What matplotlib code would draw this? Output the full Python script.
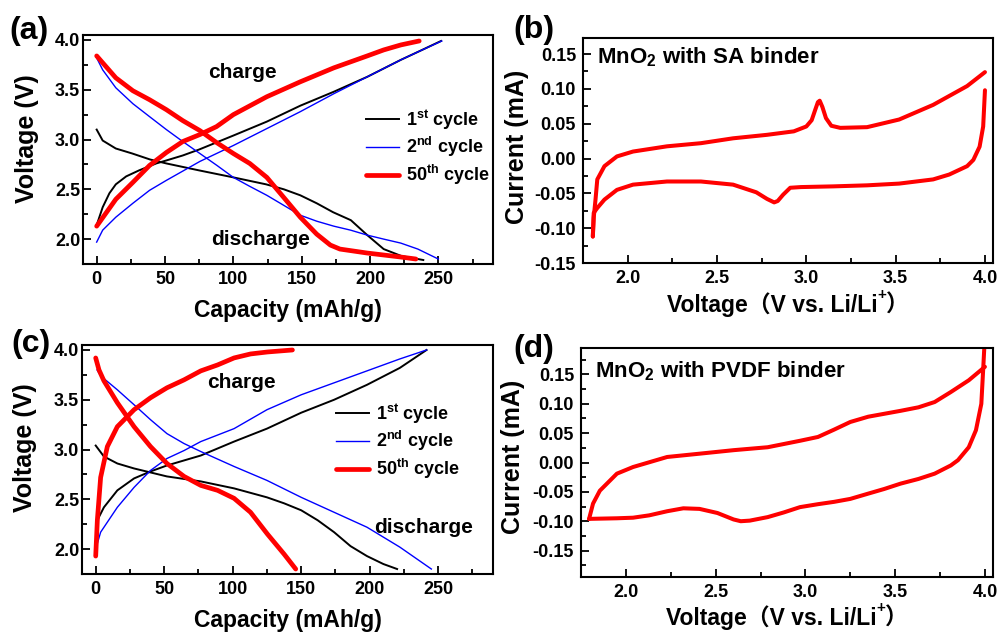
import matplotlib
matplotlib.use("Agg")
import matplotlib.pyplot as plt
from matplotlib.ticker import MultipleLocator, FuncFormatter

# ---------------- data ----------------
# (a) galvanostatic charge/discharge, SA binder
a1_dis_x = [0, 4.4, 14, 26, 39, 51, 75, 100, 124, 137, 149, 161, 173, 186, 198, 210, 223, 239]
a1_dis_y = [3.10, 2.99, 2.91, 2.86, 2.80, 2.76, 2.69, 2.62, 2.55, 2.50, 2.44, 2.36, 2.27, 2.19, 2.04, 1.90, 1.83, 1.79]
a1_ch_x = [0, 4.4, 9.3, 14, 21.6, 31, 43.6, 51, 63, 75, 100, 124.5, 149, 173.5, 198, 222.5, 235, 252]
a1_ch_y = [2.14, 2.32, 2.46, 2.55, 2.63, 2.69, 2.76, 2.79, 2.84, 2.90, 3.04, 3.18, 3.34, 3.48, 3.63, 3.80, 3.88, 3.99]
a2_dis_x = [0, 4.4, 14, 26.5, 38.7, 51, 63, 75.5, 88, 100, 112, 124.5, 136.8, 149, 161, 173.5, 185.8, 198, 210, 222.5, 235, 250]
a2_dis_y = [3.82, 3.70, 3.52, 3.36, 3.23, 3.10, 2.98, 2.86, 2.74, 2.62, 2.53, 2.44, 2.34, 2.24, 2.18, 2.13, 2.09, 2.04, 2.00, 1.96, 1.90, 1.80]
a2_ch_x = [0, 4.4, 14, 26.5, 38.7, 51, 75.5, 100, 124.5, 149, 173.5, 198, 222.5, 235, 252.5]
a2_ch_y = [1.97, 2.09, 2.22, 2.36, 2.49, 2.59, 2.78, 2.94, 3.11, 3.28, 3.46, 3.63, 3.80, 3.88, 3.99]
a50_dis_x = [0, 14, 26.5, 38.7, 51, 63, 75.5, 87.7, 100, 112, 124.5, 136.8, 149, 161, 171, 178, 198, 222.5, 233.6]
a50_dis_y = [3.84, 3.62, 3.49, 3.40, 3.30, 3.19, 3.09, 2.97, 2.86, 2.76, 2.62, 2.42, 2.22, 2.05, 1.94, 1.90, 1.86, 1.82, 1.80]
a50_ch_x = [0, 14, 26.5, 38.7, 51, 63, 75.5, 87.7, 100, 124.5, 149, 173.5, 198, 210, 222.5, 236]
a50_ch_y = [2.13, 2.40, 2.57, 2.74, 2.87, 2.98, 3.05, 3.13, 3.25, 3.43, 3.58, 3.72, 3.84, 3.90, 3.95, 3.99]

# (c) galvanostatic charge/discharge, PVDF binder
c1_dis_x = [0, 6, 15.8, 28, 52, 76.7, 101, 125, 137.5, 150, 162, 174, 186, 198, 210, 220]
c1_dis_y = [3.04, 2.93, 2.86, 2.81, 2.73, 2.68, 2.61, 2.52, 2.46, 2.39, 2.29, 2.17, 2.03, 1.93, 1.85, 1.80]
c1_ch_x = [0, 1.2, 6, 15.8, 28, 40, 52, 76.7, 101, 125, 150, 174, 198, 222, 241.5]
c1_ch_y = [2.05, 2.29, 2.42, 2.59, 2.71, 2.78, 2.84, 2.94, 3.08, 3.21, 3.37, 3.50, 3.65, 3.82, 4.0]
c2_dis_x = [1, 3.6, 15.8, 28, 40, 52, 64.5, 76.7, 101, 125, 150, 174, 198, 222, 245]
c2_dis_y = [3.80, 3.74, 3.60, 3.45, 3.30, 3.16, 3.06, 2.98, 2.83, 2.69, 2.52, 2.37, 2.22, 2.02, 1.80]
c2_ch_x = [0, 3.6, 15.8, 28, 40, 52, 64.5, 76.7, 101, 125, 150, 174, 198, 222, 241.5]
c2_ch_y = [2.00, 2.17, 2.42, 2.62, 2.79, 2.91, 2.99, 3.08, 3.21, 3.40, 3.55, 3.67, 3.79, 3.91, 4.0]
c50_dis_x = [0, 2.4, 6, 15.8, 28, 40, 52, 64.5, 76.7, 89, 101, 113, 125.4, 137.5, 146]
c50_dis_y = [3.92, 3.80, 3.69, 3.47, 3.23, 3.03, 2.86, 2.73, 2.64, 2.59, 2.51, 2.37, 2.15, 1.95, 1.80]
c50_ch_x = [0, 1.2, 3.6, 8.5, 15.8, 28, 40, 52, 64.5, 76.7, 89, 101, 113, 125.4, 143.6]
c50_ch_y = [1.93, 2.29, 2.72, 3.03, 3.23, 3.40, 3.52, 3.62, 3.70, 3.79, 3.85, 3.92, 3.96, 3.98, 4.0]

# (b) CV, SA binder
b_an_v = [1.805, 1.81, 1.82, 1.83, 1.87, 1.94, 2.03, 2.22, 2.41, 2.59, 2.78, 2.93, 3.0, 3.03, 3.05, 3.065, 3.075, 3.09, 3.11, 3.14, 3.19, 3.34, 3.52, 3.71, 3.90, 4.0]
b_an_i = [-0.112, -0.085, -0.059, -0.030, -0.011, 0.003, 0.010, 0.0175, 0.022, 0.029, 0.034, 0.039, 0.046, 0.055, 0.070, 0.081, 0.083, 0.074, 0.058, 0.047, 0.044, 0.045, 0.056, 0.077, 0.104, 0.124]
b_ca_v = [4.0, 3.99, 3.97, 3.935, 3.90, 3.80, 3.71, 3.52, 3.34, 3.15, 2.97, 2.91, 2.87, 2.84, 2.82, 2.78, 2.72, 2.59, 2.41, 2.22, 2.03, 1.94, 1.87, 1.83, 1.81, 1.805]
b_ca_i = [0.098, 0.046, 0.017, -0.002, -0.011, -0.023, -0.030, -0.036, -0.0385, -0.040, -0.041, -0.042, -0.052, -0.061, -0.063, -0.058, -0.0485, -0.0375, -0.033, -0.033, -0.0375, -0.045, -0.059, -0.071, -0.078, -0.112]

# (d) CV, PVDF binder
d_an_v = [1.795, 1.817, 1.855, 1.95, 2.04, 2.23, 2.41, 2.60, 2.79, 2.97, 3.07, 3.16, 3.25, 3.35, 3.44, 3.53, 3.63, 3.72, 3.81, 3.91, 4.0]
d_an_i = [-0.096, -0.070, -0.048, -0.019, -0.0077, 0.0094, 0.015, 0.021, 0.026, 0.037, 0.0435, 0.056, 0.069, 0.078, 0.083, 0.088, 0.094, 0.103, 0.120, 0.140, 0.163]
d_ca_v = [3.999, 3.99, 3.98, 3.95, 3.91, 3.85, 3.81, 3.72, 3.63, 3.53, 3.44, 3.35, 3.25, 3.16, 3.07, 2.97, 2.88, 2.79, 2.69, 2.64, 2.60, 2.51, 2.41, 2.32, 2.23, 2.13, 2.04, 1.95, 1.795]
d_ca_i = [0.21, 0.157, 0.10, 0.055, 0.026, 0.004, -0.005, -0.019, -0.028, -0.036, -0.045, -0.053, -0.062, -0.067, -0.071, -0.076, -0.085, -0.093, -0.099, -0.100, -0.097, -0.086, -0.079, -0.078, -0.083, -0.090, -0.094, -0.095, -0.096]

legend_labels = ["1$^{st}$ cycle", "2$^{nd}$ cycle", "50$^{th}$ cycle"]
panel_labels = ["(a)", "(b)", "(c)", "(d)"]

# ---------------- style ----------------
plt.rcParams.update({
    "font.family": ["Liberation Sans", "Noto Sans CJK SC", "DejaVu Sans"],
    "font.weight": "bold",
    "axes.labelweight": "bold",
    "mathtext.fontset": "custom",
    "mathtext.rm": "Liberation Sans:bold",
    "mathtext.it": "Liberation Sans:bold",
    "mathtext.bf": "Liberation Sans:bold",
    "mathtext.sf": "Liberation Sans:bold",
    "axes.linewidth": 1.5,
    "axes.unicode_minus": False,
})

W, H = 998, 633
fig = plt.figure(figsize=(W / 100, H / 100), dpi=100)


def px_axes(l, t, r, b):
    return fig.add_axes([l / W, 1 - b / H, (r - l) / W, (b - t) / H])


ax_a = px_axes(83, 35, 493, 264)
ax_b = px_axes(583, 38, 993, 263)
ax_c = px_axes(82, 345, 493, 574)
ax_d = px_axes(581, 348, 993, 577)

THIN_K, THIN_B, THICK = 1.4, 1.0, 3.4
BLACK, BLUE, RED = "#000000", "#0000ff", "#ff0000"


def style(ax, xmaj, xmin, ymaj, ymin, xfmt, yfmt, ypad):
    ax.xaxis.set_major_locator(MultipleLocator(xmaj))
    ax.xaxis.set_minor_locator(MultipleLocator(xmin))
    ax.yaxis.set_major_locator(MultipleLocator(ymaj))
    ax.yaxis.set_minor_locator(MultipleLocator(ymin))
    ax.xaxis.set_major_formatter(FuncFormatter(lambda v, p: xfmt.format(round(v, 3) + 0)))
    ax.yaxis.set_major_formatter(FuncFormatter(lambda v, p: yfmt.format(round(v, 3) + 0)))
    ax.tick_params(which="both", direction="in", top=False, right=False, width=1.3, labelsize=13)
    ax.tick_params(which="major", length=5.5)
    ax.tick_params(which="minor", length=3.5)
    ax.tick_params(axis="x", pad=5)
    ax.tick_params(axis="y", pad=ypad)


# ---- (a) and (c) ----
def gcd_panel(ax, k_dx, k_dy, k_cx, k_cy, b_dx, b_dy, b_cx, b_cy, r_dx, r_dy, r_cx, r_cy):
    l1, = ax.plot(k_dx, k_dy, color=BLACK, lw=THIN_K)
    ax.plot(k_cx, k_cy, color=BLACK, lw=THIN_K)
    l2, = ax.plot(b_dx, b_dy, color=BLUE, lw=THIN_B)
    ax.plot(b_cx, b_cy, color=BLUE, lw=THIN_B)
    l3, = ax.plot(r_dx, r_dy, color=RED, lw=THICK, solid_capstyle="round")
    ax.plot(r_cx, r_cy, color=RED, lw=THICK, solid_capstyle="round")
    ax.set_xlim(-10, 290)
    ax.set_ylim(1.75, 4.05)
    style(ax, 50, 25, 0.5, 0.25, "{:.0f}", "{:.1f}", 2)
    ax.set_xlabel("Capacity (mAh/g)", fontsize=16.5, fontweight="bold")
    ax.xaxis.label.set_va("baseline")
    ax.xaxis.set_label_coords(0.5, -0.231)
    ax.set_ylabel("Voltage (V)", fontsize=18, fontweight="bold")
    ax.yaxis.label.set_va("center")
    return [l1, l2, l3]


hs = gcd_panel(ax_a, a1_dis_x, a1_dis_y, a1_ch_x, a1_ch_y, a2_dis_x, a2_dis_y, a2_ch_x, a2_ch_y,
               a50_dis_x, a50_dis_y, a50_ch_x, a50_ch_y)
ax_a.yaxis.set_label_coords(-0.137, 0.548)
ax_a.legend(hs, legend_labels, loc="upper left", bbox_to_anchor=(0.69, 0.683), frameon=False,
            fontsize=13, handlelength=1.85, handletextpad=0.35, labelspacing=0.2,
            borderpad=0, borderaxespad=0)
ax_a.text(0.388, 0.838, "charge", transform=ax_a.transAxes, ha="center", va="center", fontsize=15, fontweight="bold")
ax_a.text(0.434, 0.109, "discharge", transform=ax_a.transAxes, ha="center", va="center", fontsize=15, fontweight="bold")

hs = gcd_panel(ax_c, c1_dis_x, c1_dis_y, c1_ch_x, c1_ch_y, c2_dis_x, c2_dis_y, c2_ch_x, c2_ch_y,
               c50_dis_x, c50_dis_y, c50_ch_x, c50_ch_y)
ax_c.yaxis.set_label_coords(-0.139, 0.55)
ax_c.legend(hs, legend_labels, loc="upper left", bbox_to_anchor=(0.618, 0.753), frameon=False,
            fontsize=13, handlelength=1.85, handletextpad=0.35, labelspacing=0.2,
            borderpad=0, borderaxespad=0)
ax_c.text(0.387, 0.838, "charge", transform=ax_c.transAxes, ha="center", va="center", fontsize=15, fontweight="bold")
ax_c.text(0.830, 0.205, "discharge", transform=ax_c.transAxes, ha="center", va="center", fontsize=15, fontweight="bold")


# ---- (b) and (d) ----
CJK = ["Liberation Sans", "Noto Sans CJK SC", "DejaVu Sans"]


def cv_panel(ax, an_v, an_i, ca_v, ca_i, ylim, note, note_y, xl_y):
    ax.plot(an_v, an_i, color=RED, lw=2.9, solid_capstyle="round", solid_joinstyle="round")
    ax.plot(ca_v, ca_i, color=RED, lw=2.9, solid_capstyle="round", solid_joinstyle="round")
    ax.set_xlim(1.75, 4.045)
    ax.set_ylim(*ylim)
    style(ax, 0.5, 0.25, 0.05, 0.025, "{:.1f}", "{:.2f}", 5)
    ax.set_ylabel("Current (mA)", fontsize=18, fontweight="bold")
    ax.yaxis.label.set_va("center")
    ax.text(0.034, note_y, note, transform=ax.transAxes, ha="left", va="baseline", fontsize=16, fontweight="bold")
    t1 = ax.text(0.2, xl_y, "Voltage（V vs. Li/Li", transform=ax.transAxes, ha="left", va="baseline",
                 fontsize=16.5, fontweight="bold", family=CJK)
    t2 = ax.annotate("+", xy=(1.0, 0.62), xycoords=t1, ha="left", va="bottom", fontsize=11, fontweight="bold")
    t3 = ax.annotate("）", xy=(1.0, 0.0), xycoords=(t2, t1), ha="left", va="bottom",
                     fontsize=16.5, fontweight="bold", family=CJK)
    return t1, t3


xl_b = cv_panel(ax_b, b_an_v, b_an_i, b_ca_v, b_ca_i, (-0.15, 0.173),
                "MnO$_2$ with SA binder", 0.888, -0.218)
ax_b.yaxis.set_label_coords(-0.161, 0.518)
xl_d = cv_panel(ax_d, d_an_v, d_an_i, d_ca_v, d_ca_i, (-0.195, 0.195),
                "MnO$_2$ with PVDF binder", 0.872, -0.2096)
ax_d.yaxis.set_label_coords(-0.165, 0.524)

# panel letters
for lab, (x, y) in zip(panel_labels, [(29, 31), (534, 30), (31, 344), (534, 349)]):
    fig.text(x / W, 1 - y / H, lab, ha="center", va="center", fontsize=23, fontweight="bold")

# center the composed CV x-labels under their axes
fig.canvas.draw()
r = fig.canvas.get_renderer()
for ax, (t1, t3) in [(ax_b, xl_b), (ax_d, xl_d)]:
    bb1 = t1.get_window_extent(r)
    bb3 = t3.get_window_extent(r)
    width = bb3.x1 - bb1.x0
    abox = ax.get_window_extent(r)
    left = abox.x0 + abox.width / 2 - width / 2
    t1.set_x((left - abox.x0) / abox.width)

fig.savefig("out.png", dpi=100)
